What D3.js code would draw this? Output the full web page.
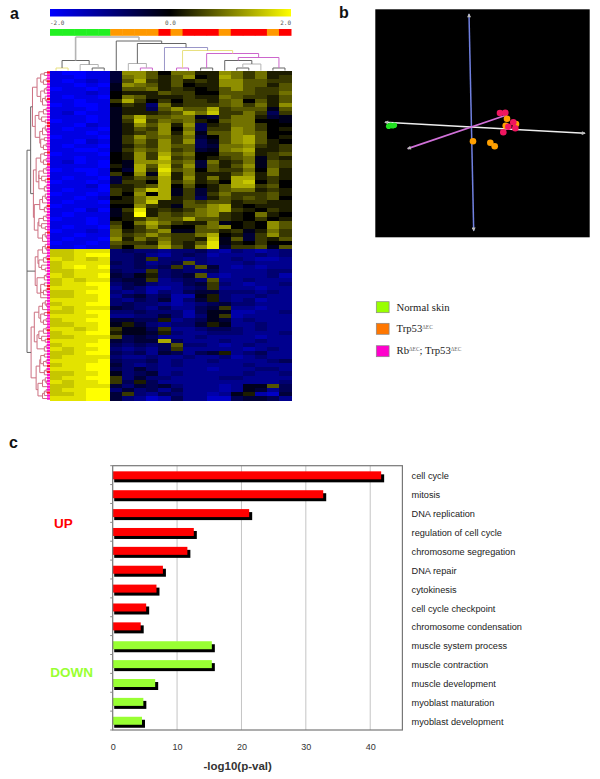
<!DOCTYPE html>
<html><head><meta charset="utf-8">
<script src="https://cdn.jsdelivr.net/npm/d3@7"></script>
<style>html,body{margin:0;padding:0;background:#fff}svg{display:block}</style>
</head><body><div id="c"></div>
<script>
// ---- panel c data
const goTerms = ["cell cycle","mitosis","DNA replication","regulation of cell cycle","chromosome segregation","DNA repair","cytokinesis","cell cycle checkpoint","chromosome condensation","muscle system process","muscle contraction","muscle development","myoblast maturation","myoblast development"];
const goValues = [41.7,32.7,21.2,12.6,11.6,7.8,6.8,5.2,4.35,15.4,15.4,6.6,4.76,4.55];
const goGroups = ["up","up","up","up","up","up","up","up","up","down","down","down","down","down"];
const xTicks = [0,10,20,30,40];
// ---- panel a data
const sampleGroups = ["n","n","n","n","n","t","t","t","t","r","t","r","r","r","t","r","r","r","t","r"];
const colorBarLabels = ["-2.0","0.0","2.0"];
// each char is a cell: digits = positive (d/9 of +2.0), letters a-i = negative (-n/9 of 2.0)
const heatTop = [
"hiihh b5530 44115 42411",
"hhihh b4531 35016 42412",
"hihgh b3621 31215 53322",
"hhihi a5431 30115 53313",
"ihhih a3341 21013 53223",
"hhhgh 01113 22003 33224",
"hihhi 04311 12114 32213",
"hhihh 26202 02213 40313",
"ihiih 021d4 12223 42415",
"hhhih a11c3 53362 333a3",
"hgihh a1112 36472 242c2",
"hhhih a3633 44ab2 441ba",
"ihhih a2724 34103 4400a",
"hhigh a1535 15c12 44200",
"hihhi a1325 04c22 54201",
"hhhih a1235 15a33 54300",
"ihhhi a2534 24b03 56301",
"hhigh a2425 25ca3 56310",
"hihhi a1325 33cb4 45212",
"hhiih a2435 23ba4 56112",
"ihhhi 01526 34003 35123",
"hhihh 01527 23012 34a21",
"hgihi 0a556 34b41 24a32",
"hhhhi 1a637 25b31 35a32",
"ihiih 0b628 34032 24041",
"hhhih 205a7 14111 35141",
"hihhi b1326 15141 66121",
"ihhih b2206 24120 67020",
"hhhgi 11236 03013 66230",
"hihhi 21476 a2b13 44121",
"ihhih 20506 a2b24 22231",
"hhihg 01466 12c13 23230",
"hihhi 11471 13233 12211",
"ihhhh 00521 a3356 10111",
"hhigi a2812 12456 21021",
"hihhh a1913 23452 10410",
"ihhih 01243 36332 10201",
"hhhih 20464 2114a 01053",
"hihhi 30252 00345 01053",
"ihhgh 41235 aa331 2a142",
"hhihh 42353 22460 1b252",
"hihhi 51424 2217a 3b213",
"ihhih 32215 2138a 10200",
"hhihh 20336 3158b 223a3"];
const heatBottom = [
"77888 dcdde ddcef defed",
"77899 ddcef dcdfe eeded",
"87878 ddc2d dedee deffe",
"78888 cdced c3dee edeee",
"78989 ddcdc 2d3be fefee",
"77888 cdd2d cddce eeedd",
"87889 bca1d cb3ef eeedf",
"78788 cbb2e dcd3e edeee",
"78899 dcbde ecb2d efeed",
"88889 ecdff edc2e eefee",
"77899 dedfd ecbbd ddede",
"77889 ecbdc ffa1d eedee",
"88889 decdb fdb1d edfee",
"78899 dcdde fedcb ddeee",
"87888 bcdec eecb2 eefee",
"77899 ddcdd dfcaa ffeed",
"88889 eeddb dfda2 feeee",
"78899 bbcc1 edcab edeee",
"77889 a1bde ddb1a eedee",
"88789 2aac2 eedcc dedee",
"78899 1aab1 deedd deeed",
"77888 3cbce eedee eefee",
"88889 bcbb6 ceeed eedee",
"78899 cdcdc 3ddef edeee",
"87889 dedec 2eeee efede",
"77899 cdceb cecb1 edcee",
"78888 deede edeed fedee",
"88889 cddce deede eeedc",
"78899 bdede deeee edeee",
"88899 cdbde eeefe eedde",
"77889 adcbe deeee edeed",
"78899 2dbdd eeeed deeee",
"87889 2c1ce eeeee eeeed",
"77888 bdbcb deeef eaa3c",
"78899 dbdce ceeef eabec",
"77899 b2dec deefe a1fgb",
"88899 bdegf ceegg cbbce"];
// nested merges [distance, child, child...]; 0 is a leaf
const colTree = {d:33.5,k:"g",c:[
  {d:10,k:"d",c:[{d:2.5,k:"y",c:[0,1]},{d:6,k:"g",c:[2,{d:2.5,k:"d",c:[3,4]}]}]},
  {d:29.5,k:"d",c:[5,{d:27,k:"d",c:[
    {d:7,k:"g",c:[6,{d:2.5,k:"p",c:[7,8]}]},
    {d:23,k:"l",c:[9,{d:20,k:"y",c:[
      {d:2.5,k:"p",c:[10,11]},
      {d:17,k:"p",c:[{d:2.5,k:"d",c:[12,13]},{d:13,k:"p",c:[
        {d:10,k:"d",c:[14,{d:6.5,k:"g",c:[{d:2.5,k:"d",c:[15,16]},17]}]},
        {d:2.5,k:"d",c:[18,19]}]}]}]}]}]}]}]};
const subA=[6,[3,0,[1.5,0,0]],0];
const subB=[8,[4,0,0],[5,[2,0,0],0]];
const subC=[10,[5,[2,0,0],0],[7,0,[3,0,0]]];
const subD=[4,[2,0,0],0];
const rowTree=[23,
  [19,
    [17,[12,subB,[8,subD,subA]],[14,subC,[9,subA,subB]]],
    [16,[13,subB,[10,subC,subD]],[15,[9,subA,subD],[11,subC,subA]]]],
  [14,[11,subA,subC],[12,subD,[8,subB,0]]],
  [18.5,[15,[10,subA,subB],[12,subC,subD]],[13,[9,subB,subD],[11,subA,[6,subD,0]]]]];
// ---- panel b data
const pcaAxisNames=["blue","white","pink"];
const pcaAxisFrom=[[-2,-112.7],[-86,-4.4],[-63.3,22]];
const pcaAxisTo=[[2.7,104],[114,6.6],[35.7,-11.7]];
const pcaX=[34.7,45,2,19.3,23.7,29,34.3,42.3,37.3,32.3,44.3,36,-82.3,-80.3,-78.3,-76.7];
const pcaY=[-1,-2.7,14.6,16,19.6,-13.7,-14,-4.4,0,5.6,1.6,-8,-0.4,-1.4,-1,-1.4];
const pcaGroup=["t","t","t","t","t","r","r","r","r","r","r","t","n","n","n","n"];
const legendNames=["Normal skin","Trp53","Rb"];

const W=600,H=779;
const svg=d3.select("#c").append("svg").attr("width",W).attr("height",H);
const defs=svg.append("defs");
defs.append("filter").attr("id","soft").attr("x","-2%").attr("y","-2%").attr("width","104%").attr("height","104%")
  .append("feGaussianBlur").attr("stdDeviation",0.55);
const sans="'Liberation Sans',Arial,sans-serif", serif="'Liberation Serif','Times New Roman',serif";

// panel letters
[["a",10,19],["b",339,18],["c",9,448]].forEach(([t,x,y])=>svg.append("text").attr("x",x).attr("y",y)
  .attr("font-family",sans).attr("font-weight","bold").attr("font-size",16).attr("fill","#111").text(t));

// ---------- panel a
const heatColor=d3.scaleLinear().domain([-2,0,2]).range(["#0000ff","#000000","#ffff00"]);
const colX=d3.scaleBand().domain(d3.range(20)).range([50,291]);
const cellVal=ch=>{const n=+ch; return isNaN(n)? -2*(ch.charCodeAt(0)-96)/9 : 2*n/9;};
const a=svg.append("g");
const barScale=d3.scaleLinear().domain([-2,2]).range([50,291]);
const gid=defs.append("linearGradient").attr("id","cb");
[-2,-1,0,1,2].forEach(v=>gid.append("stop").attr("offset",(v+2)/4).attr("stop-color",heatColor(v)));
a.append("rect").attr("x",50).attr("y",9).attr("width",241).attr("height",7.5).attr("fill","url(#cb)");
[-2,0,2].forEach((v,i)=>a.append("text").attr("x",barScale(v)).attr("y",25)
  .attr("text-anchor",i==0?"start":i==1?"middle":"end").attr("font-family","'DejaVu Sans Mono',monospace")
  .attr("font-size",6).attr("fill","#555").text(colorBarLabels[i]));
const groupFill={n:"#22f022",t:"#ff9900",r:"#ff0000"};
a.selectAll("rect.s").data(sampleGroups).join("rect").attr("class","s")
  .attr("x",(d,i)=>colX(i)).attr("y",29).attr("width",colX.bandwidth()+.5).attr("height",6.8).attr("fill",d=>groupFill[d]);

const hm=a.append("g").attr("filter","url(#soft)").attr("shape-rendering","crispEdges");
function drawHeat(rows,y0,y1){
  const clean=rows.map(r=>r.replace(/ /g,""));
  const y=d3.scaleBand().domain(d3.range(clean.length)).range([y0,y1]);
  clean.forEach((r,ri)=>{
    hm.selectAll(null).data(r.split("")).join("rect")
      .attr("x",(d,i)=>colX(i)).attr("y",y(ri))
      .attr("width",colX.bandwidth()+1).attr("height",y.bandwidth()+1).attr("fill",d=>heatColor(cellVal(d)));
  });
}
drawHeat(heatTop,70.5,249);
drawHeat(heatBottom,249,400);

// column dendrogram
const hScale=d3.scaleLinear().domain([0,34]).range([70.5,36.5]);
const colStroke={g:"#b4b4b4",d:"#666",y:"#e8e080",p:"#cc66cc",l:"#9a96c8"};
const colG=a.append("g").attr("fill","none").attr("filter","url(#soft)");
function layoutCol(n){
  if(typeof n==="number") return {x:colX(n)+colX.bandwidth()/2,y:hScale(0)};
  const ks=n.c.map(layoutCol), y=hScale(n.d), x=(ks[0].x+ks[ks.length-1].x)/2;
  const p=d3.path();
  ks.forEach(k=>{p.moveTo(k.x,k.y);p.lineTo(k.x,y);});
  p.moveTo(ks[0].x,y);p.lineTo(ks[ks.length-1].x,y);
  colG.append("path").attr("d",p.toString()).attr("stroke",colStroke[n.k]).attr("stroke-width",n.d>30?1.6:1);
  return {x,y};
}
layoutCol(colTree);

// row dendrogram
const countLeaves=n=>typeof n==="number"?1:n.slice(1).reduce((s,k)=>s+countLeaves(k),0);
const nLeaves=countLeaves(rowTree);
const leafY=d3.scaleLinear().domain([0,nLeaves]).range([71,400]);
const distX=d3.scaleLinear().domain([0,23]).range([48,27]);
const rowG=a.append("g").attr("fill","none").attr("filter","url(#soft)");
let leafI=0;
function layoutRow(n){
  if(typeof n==="number"){const i=leafI++;return {x:distX(0),y:leafY(i+.5),leaf:i};}
  const ks=n.slice(1).map(layoutRow), x=distX(n[0]), y=(ks[0].y+ks[ks.length-1].y)/2;
  const p=d3.path();
  ks.forEach(k=>{p.moveTo(k.x,k.y);p.lineTo(x,k.y);});
  p.moveTo(x,ks[0].y);p.lineTo(x,ks[ks.length-1].y);
  const gray=n[0]>=19;
  rowG.append("path").attr("d",p.toString()).attr("stroke",gray?"#666":"#cc7080").attr("stroke-width",1);
  return {x,y};
}
layoutRow(rowTree);
rowG.selectAll("line.leaf").data(d3.range(nLeaves)).join("line").attr("class","leaf")
  .attr("x1",distX(0)-1).attr("x2",50).attr("y1",d=>leafY(d+.5)).attr("y2",d=>leafY(d+.5))
  .attr("stroke",d=>(d%9===0||d%14===3)?"#ff1030":"#ff10d0").attr("stroke-width",2.4);

// ---------- panel b
const pcaSX=d3.scaleLinear().domain([-100,100]).range([371,571]);
const pcaSY=d3.scaleLinear().domain([-100,100]).range([26.7,226.7]);
const b=svg.append("g").attr("filter","url(#soft)");
b.append("rect").attr("x",375.3).attr("y",9.3).attr("width",214.4).attr("height",228).attr("fill","#000");
const axisStroke={blue:"#7080e0",white:"#eeeeee",pink:"#d070d8"};
const mk=defs.append("marker").attr("id","ar").attr("viewBox","0 0 10 10").attr("refX",8).attr("refY",5)
  .attr("markerUnits","userSpaceOnUse").attr("markerWidth",5).attr("markerHeight",4).attr("orient","auto");
mk.append("path").attr("d","M0 0L10 5L0 10Z").attr("fill","#bbb");
const mk2=defs.append("marker").attr("id","ar2").attr("viewBox","0 0 10 10").attr("refX",2).attr("refY",5)
  .attr("markerUnits","userSpaceOnUse").attr("markerWidth",5).attr("markerHeight",4).attr("orient","auto");
mk2.append("path").attr("d","M10 0L0 5L10 10Z").attr("fill","#bbb");
pcaAxisNames.forEach((nm,i)=>{
  const l=b.append("line").attr("x1",pcaSX(pcaAxisFrom[i][0])).attr("y1",pcaSY(pcaAxisFrom[i][1]))
    .attr("x2",pcaSX(pcaAxisTo[i][0])).attr("y2",pcaSY(pcaAxisTo[i][1]))
    .attr("stroke",axisStroke[nm]).attr("stroke-width",nm=="pink"?1.8:1.5);
  l.attr("marker-start","url(#ar2)");
  if(nm!="pink") l.attr("marker-end","url(#ar)");
});
const ptFill={n:"#20e020",t:"#ffa000",r:"#f01860"};
b.selectAll("circle").data(pcaX).join("circle").attr("cx",d=>pcaSX(d)).attr("cy",(d,i)=>pcaSY(pcaY[i]))
  .attr("r",(d,i)=>pcaGroup[i]=="n"?2.8:3.3).attr("fill",(d,i)=>ptFill[pcaGroup[i]]);

// legend
const legendFill=["#99ff00","#ff7700","#ff00cc"], legY=[301.7,323.3,345.7], legBase=[311,332,354];
const leg=svg.append("g");
legendNames.forEach((nm,i)=>{
  leg.append("rect").attr("x",376.3).attr("y",legY[i]).attr("width",12.8).attr("height",11)
    .attr("fill",legendFill[i]).attr("stroke","#888").attr("stroke-width",.7);
  const t=leg.append("text").attr("x",396.5).attr("y",legBase[i]).attr("font-family",serif).attr("font-size",10.7).attr("fill","#222").text(nm);
  const sup=s=>t.append("tspan").attr("dy",-3.5).attr("font-size",5.5).attr("fill","#666").text(s);
  if(i==1) sup("ΔEC");
  if(i==2){sup("ΔEC");t.append("tspan").attr("dy",3.5).text("; Trp53");sup("ΔEC");}
});

// ---------- panel c
const x=d3.scaleLinear().domain([0,45]).range([112.7,402.4]);
const y=d3.scaleBand().domain(goTerms).range([465.7,730]);
const c=svg.append("g");
c.selectAll("line.grid").data(xTicks.slice(1)).join("line").attr("class","grid")
  .attr("x1",d=>x(d)).attr("x2",d=>x(d)).attr("y1",y.range()[0]).attr("y2",y.range()[1]).attr("stroke","#c4c4c4").attr("stroke-width",1);
const barH=8;
c.selectAll("rect.sh").data(goValues).join("rect").attr("class","sh")
  .attr("x",x(0)+1.5).attr("y",(d,i)=>y(goTerms[i])+y.bandwidth()/2-barH/2+3.2).attr("height",barH)
  .attr("width",d=>x(d)-x(0)+1.5).attr("fill","#000");
c.selectAll("rect.bar").data(goValues).join("rect").attr("class","bar")
  .attr("x",x(0)).attr("y",(d,i)=>y(goTerms[i])+y.bandwidth()/2-barH/2+.2).attr("height",barH)
  .attr("width",d=>x(d)-x(0)).attr("fill",(d,i)=>goGroups[i]=="up"?"#ff0000":"#99ff33");
c.append("rect").attr("x",x.range()[0]).attr("y",y.range()[0]).attr("width",x.range()[1]-x.range()[0]).attr("height",y.range()[1]-y.range()[0])
  .attr("fill","none").attr("stroke","#777").attr("stroke-width",1.2);
const xAxis=c.append("g").attr("transform",`translate(0,${y.range()[1]})`)
  .call(d3.axisBottom(x).tickValues(xTicks).tickSize(0).tickPadding(13.6));
xAxis.select(".domain").remove();
xAxis.selectAll("text").attr("font-family",sans).attr("font-size",9).attr("fill","#333");
c.selectAll("line.yt").data(d3.range(goTerms.length+1)).join("line").attr("class","yt")
  .attr("x1",x(0)-2.5).attr("x2",x(0)).attr("y1",d=>y.range()[0]+d*y.step()).attr("y2",d=>y.range()[0]+d*y.step()).attr("stroke","#888");
c.selectAll("text.term").data(goTerms).join("text").attr("class","term")
  .attr("x",411.6).attr("y",d=>y(d)+y.bandwidth()/2+4.3).attr("font-family",sans).attr("font-size",9.2).attr("fill","#222").text(d=>d);
c.append("text").attr("x",237.7).attr("y",770).attr("text-anchor","middle").attr("font-family",sans).attr("font-weight","bold").attr("font-size",11.5).attr("fill","#333").text("-log10(p-val)");
c.append("text").attr("x",63.5).attr("y",528).attr("text-anchor","middle").attr("font-family",sans).attr("font-weight","bold").attr("font-size",13.5).attr("fill","#ff0000").text("UP");
c.append("text").attr("x",71.7).attr("y",677).attr("text-anchor","middle").attr("font-family",sans).attr("font-weight","bold").attr("font-size",13.5).attr("fill","#99ff33").text("DOWN");
</script></body></html>
